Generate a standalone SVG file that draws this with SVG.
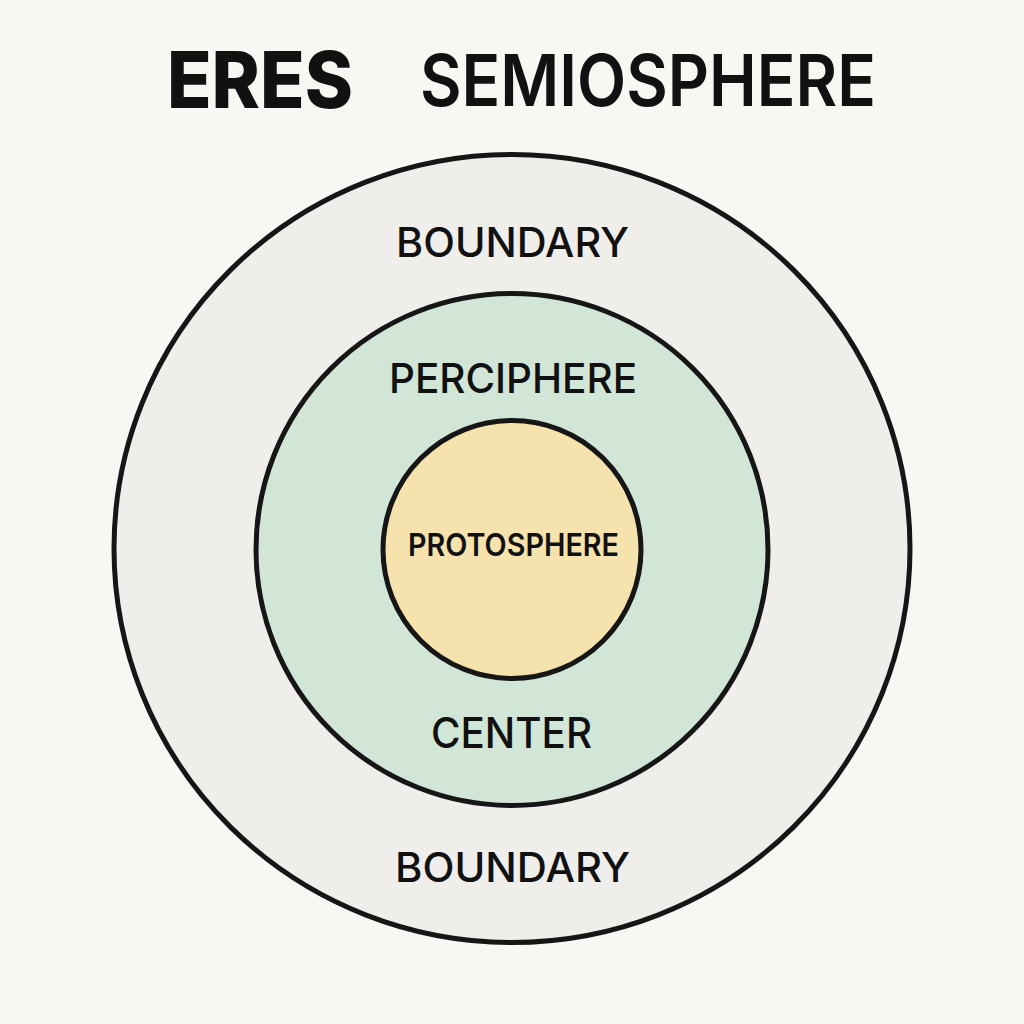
<svg xmlns="http://www.w3.org/2000/svg" width="1024" height="1024" viewBox="0 0 1024 1024">
  <style>
    .ring { stroke: #161616; stroke-width: 5; }
    .title { font-family: Inter, "Liberation Sans", sans-serif; fill: #111111; }
    .label { font-family: Inter, "Liberation Sans", sans-serif; font-weight: 500; fill: #111111; text-anchor: middle; }
    .label.core { font-weight: 600; }
  </style>
  <rect x="0" y="0" width="1024" height="1024" fill="#f8f7f4"/>

  <!-- heading -->
  <g id="heading">
    <text class="title" x="167" y="108" font-size="78" font-weight="800" textLength="186" lengthAdjust="spacingAndGlyphs">ERES</text>
    <text class="title" x="420" y="106" font-size="72" font-weight="600" textLength="456" lengthAdjust="spacingAndGlyphs">SEMIOSPHERE</text>
  </g>

  <!-- outer ring: boundary -->
  <g id="boundary">
    <ellipse class="ring" cx="512" cy="548.5" rx="398" ry="394" fill="#efeeeb"/>
    <text class="label" x="512.5" y="257" font-size="41" textLength="233" lengthAdjust="spacingAndGlyphs">BOUNDARY</text>
    <text class="label" x="512.5" y="882" font-size="41" textLength="235" lengthAdjust="spacingAndGlyphs">BOUNDARY</text>
  </g>

  <!-- middle ring: periphery / center -->
  <g id="periphery">
    <circle class="ring" cx="512" cy="549.5" r="256" fill="#d2e6d8"/>
    <text class="label" x="513" y="393" font-size="41" textLength="248" lengthAdjust="spacingAndGlyphs">PERCIPHERE</text>
    <text class="label" x="511.5" y="748" font-size="42" textLength="161" lengthAdjust="spacingAndGlyphs">CENTER</text>
  </g>

  <!-- core: protosphere -->
  <g id="protosphere">
    <circle class="ring" cx="512" cy="549.5" r="129" fill="#f6e2ad"/>
    <text class="label core" x="513.5" y="556" font-size="31" textLength="211" lengthAdjust="spacingAndGlyphs">PROTOSPHERE</text>
  </g>

  <g id="connectors"/>
</svg>
